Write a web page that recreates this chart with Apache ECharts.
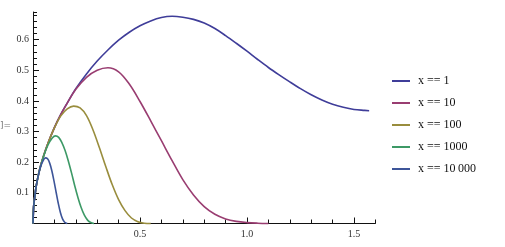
<!DOCTYPE html>
<html>
<head>
<meta charset="utf-8">
<script src="https://cdn.jsdelivr.net/npm/echarts@6/dist/echarts.min.js"></script>
<style>html,body{margin:0;padding:0;background:#fff;}#chart{width:505px;height:247px;}</style>
</head>
<body>
<div id="chart"></div>
<script>
// Series names (legend)
const seriesNames = ['x == 1', 'x == 10', 'x == 100', 'x == 1000', 'x == 10\u2009000'];

// Curve points [t, value]
const curveX1 = [[0,0],[0.003,0.055],[0.007,0.08],[0.015,0.122],[0.025,0.158],[0.035,0.187],[0.05,0.222],[0.07,0.262],[0.1,0.313],[0.13,0.356],[0.16,0.393],[0.2,0.44],[0.25,0.488],[0.3,0.53],[0.35,0.566],[0.4,0.598],[0.45,0.624],[0.5,0.645],[0.55,0.661],[0.6,0.672],[0.65,0.676],[0.7,0.673],[0.75,0.666],[0.8,0.654],[0.85,0.636],[0.9,0.613],[0.95,0.588],[1.0,0.562],[1.05,0.535],[1.1,0.509],[1.15,0.485],[1.2,0.462],[1.25,0.44],[1.3,0.42],[1.35,0.403],[1.4,0.389],[1.45,0.379],[1.5,0.372],[1.55,0.369],[1.5708,0.368]];
const curveX10 = [[0,0],[0.003,0.055],[0.007,0.08],[0.015,0.122],[0.025,0.158],[0.035,0.187],[0.05,0.222],[0.07,0.262],[0.1,0.313],[0.13,0.356],[0.16,0.393],[0.2,0.438],[0.25,0.477],[0.3,0.5],[0.35,0.508],[0.4,0.495],[0.45,0.455],[0.5,0.398],[0.55,0.335],[0.6,0.27],[0.65,0.205],[0.7,0.143],[0.75,0.093],[0.8,0.055],[0.85,0.03],[0.9,0.015],[0.95,0.007],[1.0,0.003],[1.05,0.001],[1.1,0]];
const curveX100 = [[0,0],[0.003,0.055],[0.007,0.08],[0.015,0.122],[0.025,0.158],[0.035,0.187],[0.05,0.222],[0.07,0.262],[0.1,0.312],[0.13,0.351],[0.16,0.374],[0.19,0.383],[0.22,0.377],[0.25,0.352],[0.28,0.306],[0.31,0.248],[0.34,0.186],[0.37,0.127],[0.4,0.078],[0.43,0.042],[0.46,0.018],[0.49,0.006],[0.52,0.001],[0.55,0]];
const curveX1000 = [[0,0],[0.003,0.055],[0.007,0.08],[0.015,0.122],[0.025,0.158],[0.035,0.186],[0.05,0.22],[0.07,0.256],[0.09,0.279],[0.105,0.286],[0.12,0.281],[0.135,0.264],[0.15,0.238],[0.165,0.204],[0.18,0.165],[0.195,0.123],[0.21,0.085],[0.225,0.052],[0.24,0.027],[0.255,0.011],[0.27,0.003],[0.285,0]];
const curveX10000 = [[0,0],[0.003,0.055],[0.007,0.08],[0.015,0.122],[0.025,0.157],[0.035,0.184],[0.045,0.202],[0.058,0.214],[0.068,0.211],[0.078,0.197],[0.088,0.172],[0.098,0.139],[0.108,0.102],[0.118,0.066],[0.128,0.036],[0.138,0.015],[0.148,0.004],[0.16,0]];

// Axis ranges and tick steps
const xRange = [0, 1.6];
const xMajorRange = [0, 1.5];
const yRange = [0, 0.69];
const xMajorStep = 0.5, xMinorStep = 0.1;
const yMajorStep = 0.1, yMinorStep = 0.02;

const colors = ['#3f3d99', '#993d71', '#998d3d', '#3d9966', '#3d5599'];
const curves = [curveX1, curveX10, curveX100, curveX1000, curveX10000];

const axisColor = '#111';
const labelFont = 'Liberation Serif';
const pxPerX = 214, plotLeft = 33, plotTop = 12, plotBottom = 223.5;
const gridMain = {left: plotLeft, top: plotTop, width: (xRange[1]-xRange[0])*pxPerX, height: plotBottom - plotTop};
const gridMinorTicks = {left: plotLeft, top: plotBottom - 4, width: (xRange[1]-xRange[0])*pxPerX, height: 4};
const gridMajorTicks = {left: plotLeft, top: plotBottom - 6, width: (xMajorRange[1]-xMajorRange[0])*pxPerX, height: 6};

function isMajorX(v) {
  const k = v / xMajorStep;
  return v > 0 && v < xRange[1] && Math.abs(k - Math.round(k)) < 1e-6;
}
function tickStripX(gridIndex, range, step) {
  return {type: 'value', gridIndex: gridIndex, min: range[0], max: range[1], interval: step,
    axisLine: {show: false}, axisTick: {show: false}, axisLabel: {show: false},
    splitLine: {show: true, lineStyle: {color: axisColor, width: 1}}};
}
function hiddenY(gridIndex) {
  return {type: 'value', gridIndex: gridIndex, min: 0, max: 1, show: false,
    axisLine: {show: false}, axisTick: {show: false}, axisLabel: {show: false}, splitLine: {show: false}};
}

const chart = echarts.init(document.getElementById('chart'), null, {renderer: 'canvas'});
chart.setOption({
  animation: false,
  backgroundColor: '#fff',
  grid: [gridMain, Object.assign({}, gridMain), gridMinorTicks, gridMajorTicks],
  legend: {
    orient: 'vertical',
    left: 387, top: 69,
    icon: 'rect', itemWidth: 18, itemHeight: 2, itemGap: 8,
    data: seriesNames,
    textStyle: {fontFamily: labelFont, fontSize: 12, color: '#111', lineHeight: 14, padding: [0,0,0,3]}
  },
  graphic: [{type: 'text', left: 0, top: 121, style: {text: ']=', fill: '#777', font: '9px "DejaVu Sans"'}}],
  xAxis: [
    {type: 'value', gridIndex: 0, min: xRange[0], max: xRange[1], interval: xMinorStep, position: 'bottom',
      axisLine: {show: true, onZero: false, lineStyle: {color: axisColor, width: 1}},
      axisTick: {show: false},
      axisLabel: {show: true, margin: 6, fontFamily: labelFont, fontSize: 10, color: '#333',
        formatter: v => isMajorX(v) ? v.toFixed(1) : ''},
      splitLine: {show: false}},
    {type: 'value', gridIndex: 1, min: xRange[0], max: xRange[1], show: false,
      axisLine: {show: false}, axisTick: {show: false}, axisLabel: {show: false}, splitLine: {show: false}},
    tickStripX(2, xRange, xMinorStep),
    tickStripX(3, xMajorRange, xMajorStep)
  ],
  yAxis: [
    {type: 'value', gridIndex: 0, min: yRange[0], max: yRange[1], interval: yMinorStep, position: 'left',
      axisLine: {show: true, onZero: false, lineStyle: {color: axisColor, width: 1}},
      axisTick: {show: true, inside: true, length: 4, lineStyle: {color: axisColor, width: 1}},
      axisLabel: {show: false}, splitLine: {show: false}},
    {type: 'value', gridIndex: 1, min: yRange[0], max: yRange[1], interval: yMajorStep, position: 'left',
      axisLine: {show: false, onZero: false},
      axisTick: {show: true, inside: true, length: 6, lineStyle: {color: axisColor, width: 1}},
      axisLabel: {show: true, showMinLabel: false, showMaxLabel: false, margin: 4,
        fontFamily: labelFont, fontSize: 10, color: '#333', formatter: v => v.toFixed(1)},
      splitLine: {show: false}},
    hiddenY(2),
    hiddenY(3)
  ],
  series: curves.map((c, i) => ({
    type: 'line', name: seriesNames[i], data: c, xAxisIndex: 0, yAxisIndex: 0,
    showSymbol: false, smooth: 0.35, clip: false, z: 3,
    lineStyle: {color: colors[i], width: 1.6}, itemStyle: {color: colors[i]}
  }))
});
</script>
</body>
</html>
